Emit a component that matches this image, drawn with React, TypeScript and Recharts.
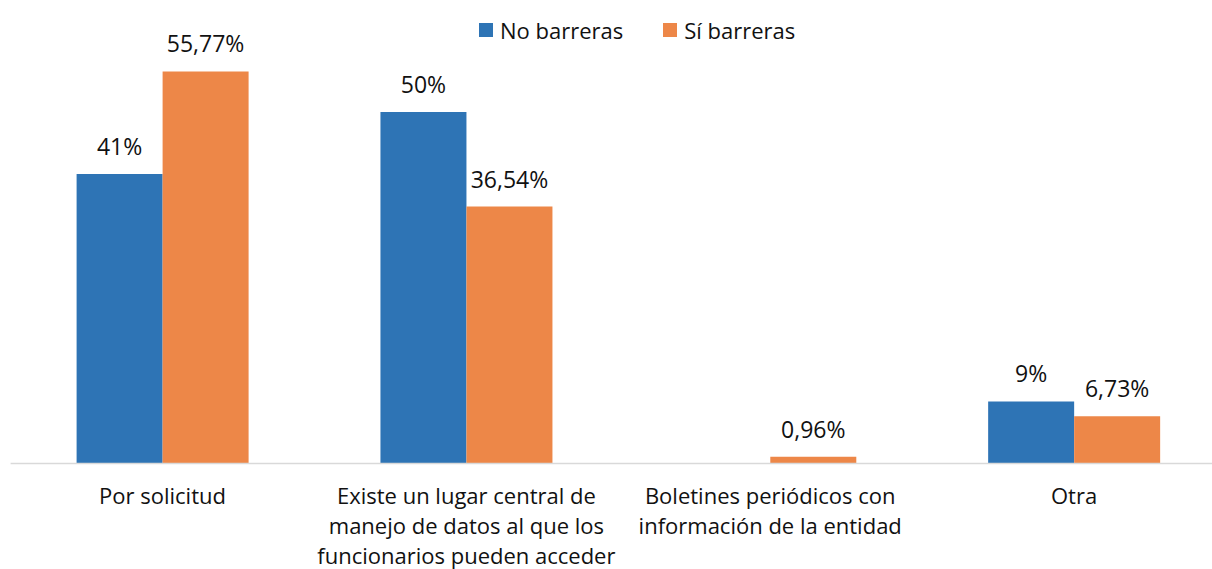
import React from "react";
import { BarChart, Bar, XAxis, YAxis, Legend, LabelList } from "recharts";

const categories = [
  "Por solicitud",
  "Existe un lugar central de\nmanejo de datos al que los\nfuncionarios pueden acceder",
  "Boletines periódicos con\ninformación de la entidad",
  "Otra",
];
const noBarreras = [41.18, 50, 0, 8.82];
const siBarreras = [55.77, 36.54, 0.96, 6.73];
const seriesNames = ["No barreras", "Sí barreras"];
const colors = ["#2E74B5", "#ED8748"];

const data = categories.map((c, i) => ({
  name: c,
  no: noBarreras[i],
  si: siBarreras[i],
}));

const FONT = "'Open Sans', 'Noto Sans', sans-serif";

const fmtNo = (v: number) => (v > 0 ? `${Math.round(v)}%` : "");
const fmtSi = (v: number) => (v > 0 ? `${v.toFixed(2).replace(".", ",")}%` : "");

const makeLabel = (fmt: (v: number) => string) => (props: any) => {
  const { x, y, width, value } = props;
  const t = fmt(Number(value));
  if (!t) return null;
  return (
    <text
      x={Number(x) + Number(width) / 2}
      y={Number(y) - 19}
      textAnchor="middle"
      fontFamily={FONT}
      fontSize={23}
      fill="#111"
    >
      {t}
    </text>
  );
};

const CategoryTick = (props: any) => {
  const { x, payload } = props;
  const lines = String(payload.value).split("\n");
  const base = 504.3;
  return (
    <text x={x} y={base} textAnchor="middle" fontFamily={FONT} fontSize={22} fill="#111">
      {lines.map((l, i) => (
        <tspan key={i} x={x} y={base + i * 29.8}>
          {l}
        </tspan>
      ))}
    </text>
  );
};

const LegendContent = () => (
  <div
    style={{
      display: "flex",
      alignItems: "center",
      fontFamily: FONT,
      fontSize: 22,
      lineHeight: "20px",
      color: "#111",
      whiteSpace: "nowrap",
    }}
  >
    {seriesNames.map((n, i) => (
      <div key={n} style={{ display: "flex", alignItems: "center", marginRight: i === 0 ? 40 : 0 }}>
        <span style={{ display: "inline-block", width: 14, height: 14, background: colors[i], marginRight: 7 }} />
        <span>{n}</span>
      </div>
    ))}
  </div>
);

export default function App() {
  return (
    <div
      style={{
        position: "absolute",
        left: 0,
        top: 0,
        width: 1212,
        height: 569,
        overflow: "hidden",
        background: "#fff",
      }}
    >
      <BarChart
        width={1240}
        height={569}
        data={data}
        margin={{ top: 41.7, right: 14, left: 10.6, bottom: 5 }}
        barGap={0}
        barSize={86}
      >
        <XAxis
          dataKey="name"
          height={100.5}
          tickLine={false}
          tickSize={0}
          tickMargin={0}
          axisLine={{ stroke: "#d9d9d9", strokeWidth: 1.5 }}
          tick={<CategoryTick />}
          interval={0}
        />
        <YAxis hide domain={[0, 60]} />
        <Legend
          verticalAlign="middle"
          align="center"
          content={<LegendContent />}
          wrapperStyle={{ top: 20, left: 479, width: "auto", height: 20 }}
        />
        <Bar dataKey="no" name={seriesNames[0]} fill={colors[0]} isAnimationActive={false}>
          <LabelList dataKey="no" content={makeLabel(fmtNo)} />
        </Bar>
        <Bar dataKey="si" name={seriesNames[1]} fill={colors[1]} isAnimationActive={false}>
          <LabelList dataKey="si" content={makeLabel(fmtSi)} />
        </Bar>
      </BarChart>
    </div>
  );
}
